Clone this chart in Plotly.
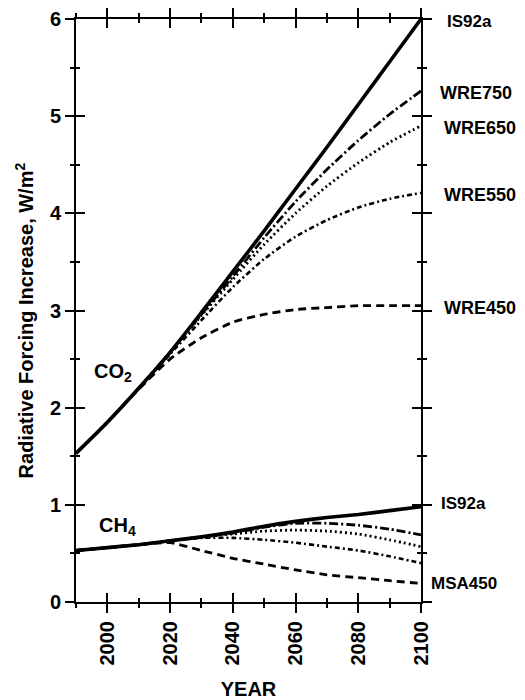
import plotly.graph_objects as go

years = [1990, 2000, 2010, 2020, 2030, 2040, 2050, 2060, 2070, 2080, 2090, 2100]

# CO2 radiative forcing increase (W/m2)
co2_is92a = [1.53, 1.85, 2.20, 2.57, 2.98, 3.40, 3.82, 4.25, 4.68, 5.12, 5.56, 6.00]
co2_wre750 = [1.53, 1.85, 2.20, 2.57, 2.96, 3.35, 3.75, 4.12, 4.45, 4.75, 5.02, 5.26]
co2_wre650 = [1.53, 1.85, 2.20, 2.57, 2.95, 3.32, 3.68, 4.00, 4.28, 4.52, 4.73, 4.90]
co2_wre550 = [1.53, 1.85, 2.20, 2.55, 2.90, 3.24, 3.53, 3.76, 3.93, 4.06, 4.15, 4.21]
co2_wre450 = [1.53, 1.85, 2.19, 2.50, 2.72, 2.88, 2.96, 3.01, 3.03, 3.05, 3.05, 3.05]

# CH4 radiative forcing increase (W/m2)
ch4_is92a = [0.53, 0.56, 0.59, 0.63, 0.67, 0.72, 0.78, 0.83, 0.87, 0.90, 0.94, 0.98]
ch4_s1 = [0.53, 0.56, 0.59, 0.63, 0.67, 0.71, 0.77, 0.81, 0.81, 0.79, 0.75, 0.69]
ch4_s2 = [0.53, 0.56, 0.59, 0.63, 0.67, 0.70, 0.73, 0.74, 0.73, 0.70, 0.64, 0.57]
ch4_s3 = [0.53, 0.56, 0.59, 0.63, 0.66, 0.66, 0.64, 0.61, 0.57, 0.53, 0.47, 0.40]
ch4_msa450 = [0.53, 0.56, 0.59, 0.61, 0.53, 0.45, 0.39, 0.33, 0.28, 0.25, 0.22, 0.19]

co2_labels = ["IS92a", "WRE750", "WRE650", "WRE550", "WRE450"]
ch4_labels = ["IS92a", "", "", "", "MSA450"]

FONT = "Liberation Sans, Arial, sans-serif"

styles = [
    dict(width=3.6, dash="solid"),
    dict(width=2.8, dash="9px,3px,2px,3px"),
    dict(width=2.8, dash="2px,3px"),
    dict(width=2.6, dash="5px,3px,2px,3px"),
    dict(width=2.8, dash="8px,5px"),
]

co2_series = [co2_is92a, co2_wre750, co2_wre650, co2_wre550, co2_wre450]
ch4_series = [ch4_is92a, ch4_s1, ch4_s2, ch4_s3, ch4_msa450]

fig = go.Figure()

for series in (co2_series, ch4_series):
    for i in range(len(series) - 1, -1, -1):
        fig.add_trace(go.Scatter(
            x=years, y=series[i], mode="lines",
            line=dict(color="black", width=styles[i]["width"], dash=styles[i]["dash"], shape="spline", smoothing=0.6),
            showlegend=False, hoverinfo="skip"))

# helper trace for the overlay axes (inside ticks)
fig.add_trace(go.Scatter(x=[None], y=[None], xaxis="x2", yaxis="y2", showlegend=False, hoverinfo="skip"))

annotations = []
co2_xshift = [24, 17, 21, 21, 21]
co2_size = [17, 18, 18, 18, 18]
for lab, s, xs, fs in zip(co2_labels, co2_series, co2_xshift, co2_size):
    annotations.append(dict(x=2100, y=s[-1], xref="x", yref="y", text=lab, showarrow=False,
                            xanchor="left", yanchor="middle", xshift=xs, yshift=-2,
                            font=dict(family=FONT, size=fs, color="black", weight="bold")))
for lab, s, ys, xs in zip(ch4_labels, ch4_series, [3, 0, 0, 0, 0], [18, 0, 0, 0, 8]):
    if lab:
        annotations.append(dict(x=2100, y=s[-1], xref="x", yref="y", text=lab, showarrow=False,
                                xanchor="left", yanchor="middle", xshift=xs, yshift=ys,
                                font=dict(family=FONT, size=17, color="black", weight="bold")))

gas_font = dict(family=FONT, size=20, color="black", weight="bold")
annotations.append(dict(x=1995.0, y=2.36, xref="x", yref="y", text="CO<sub>2</sub>", showarrow=False,
                        xanchor="left", yanchor="middle", font=gas_font))
annotations.append(dict(x=1996.8, y=0.78, xref="x", yref="y", text="CH<sub>4</sub>", showarrow=False,
                        xanchor="left", yanchor="middle", font=gas_font))

tickfont = dict(family=FONT, size=20, color="black", weight="bold")
titlefont = dict(family=FONT, size=20, color="black", weight="bold")

# y-axis title, drawn as rotated text beside the axis
annotations.append(dict(x=0, y=0.483, xref="paper", yref="paper", xanchor="center", yanchor="middle",
                        xshift=-52, textangle=-90, showarrow=False,
                        text="Radiative Forcing Increase, W/m<sup>2</sup>", font=titlefont))

# page body has an 8px default margin, so the figure is offset by 8px
fig.update_layout(
    width=517, height=692, autosize=False,
    margin=dict(l=68, r=104, t=11, b=98),
    paper_bgcolor="white", plot_bgcolor="white",
    annotations=annotations,
    xaxis=dict(range=[1990, 2100], tickmode="linear", tick0=2000, dtick=20,
               ticks="outside", ticklen=9, tickwidth=1.5, tickcolor="black",
               minor=dict(dtick=10, tick0=1990, ticks="outside", ticklen=4, tickwidth=1.5, tickcolor="black"),
               showline=True, linecolor="black", linewidth=2, mirror="ticks",
               showgrid=False, zeroline=False, tickangle=-90, automargin=False,
               tickfont=tickfont,
               title=dict(text="YEAR", standoff=17, font=titlefont)),
    yaxis=dict(range=[0, 6], tickmode="linear", tick0=0, dtick=1,
               ticks="outside", ticklen=9, tickwidth=1.5, tickcolor="black",
               minor=dict(dtick=0.5, ticks="outside", ticklen=4, tickwidth=1.5, tickcolor="black"),
               showline=True, linecolor="black", linewidth=2, mirror="ticks",
               showgrid=False, zeroline=False, automargin=False,
               tickfont=tickfont),
    xaxis2=dict(range=[1990, 2100], overlaying="x", anchor="y2", side="bottom",
                tickmode="linear", tick0=2000, dtick=20,
                ticks="inside", ticklen=9, tickwidth=1.5, tickcolor="black",
                minor=dict(dtick=10, tick0=1990, ticks="inside", ticklen=4, tickwidth=1.5, tickcolor="black"),
                showticklabels=False, showline=False, mirror="ticks", showgrid=False, zeroline=False),
    yaxis2=dict(range=[0, 6], overlaying="y", anchor="x2", side="left",
                tickmode="linear", tick0=0, dtick=1,
                ticks="inside", ticklen=9, tickwidth=1.5, tickcolor="black",
                minor=dict(dtick=0.5, ticks="inside", ticklen=4, tickwidth=1.5, tickcolor="black"),
                showticklabels=False, showline=False, mirror="ticks", showgrid=False, zeroline=False),
)

fig.write_html("out.html")
